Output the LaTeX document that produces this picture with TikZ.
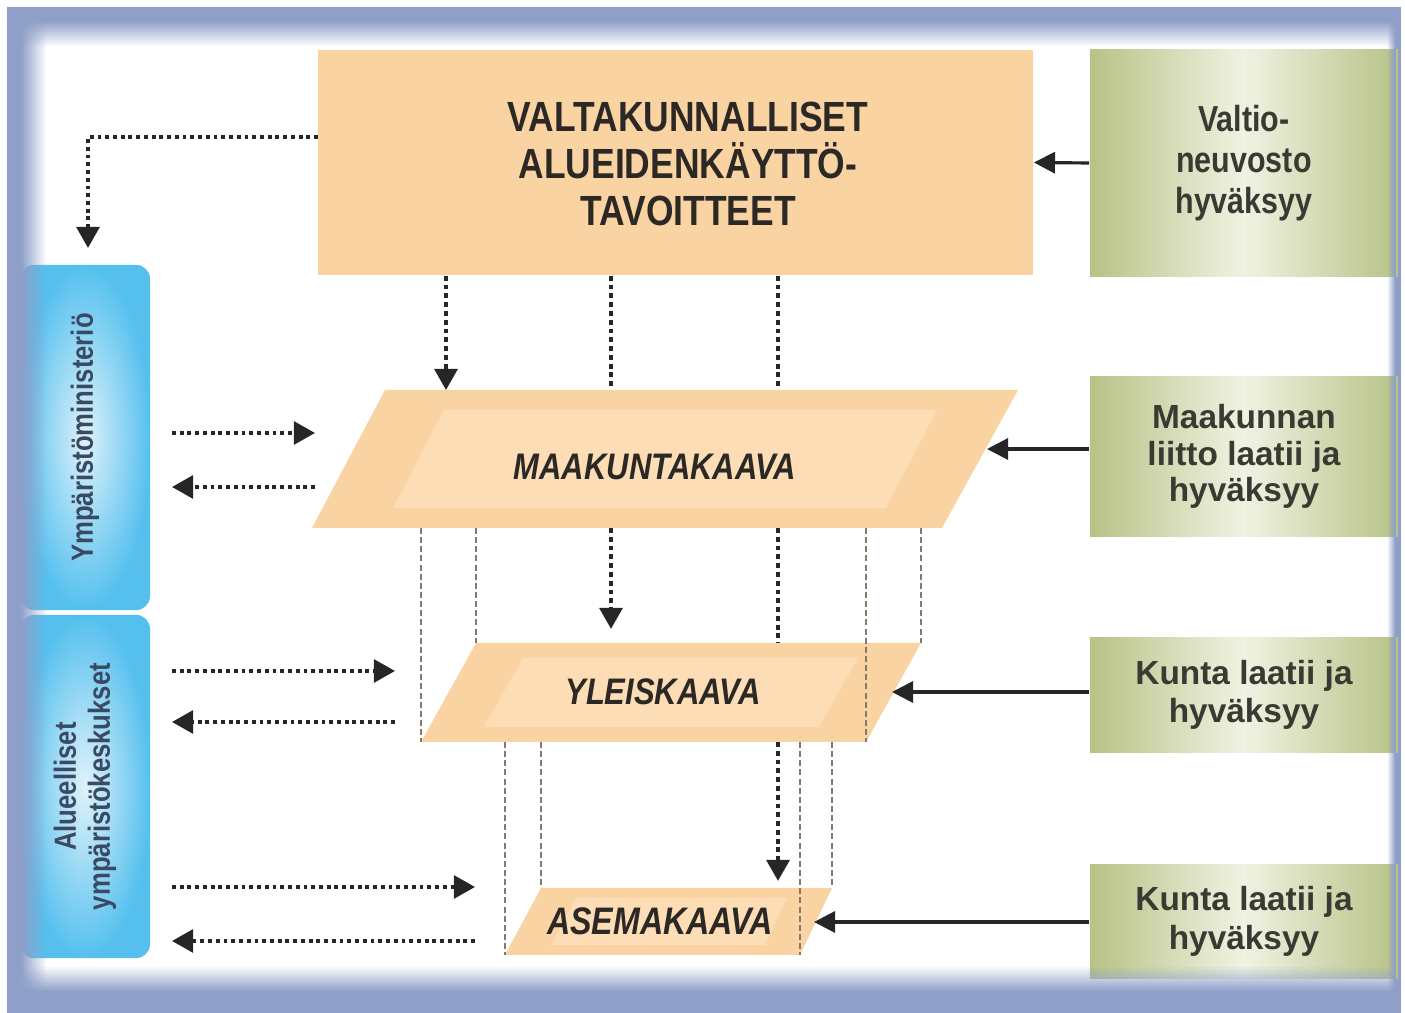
\documentclass[tikz,border=0pt]{standalone}
\usepackage{fontspec}
\setmainfont{Liberation Sans}
\newfontfamily\condfont{Liberation Sans}[FakeStretch=0.84]
\usepackage{xcolor}
\usepackage{tikz}
\usetikzlibrary{arrows.meta}
\definecolor{frame}{HTML}{8E9FC8}
\definecolor{peach}{HTML}{FAD3A2}
\definecolor{peachlight}{HTML}{FCDDB5}
\definecolor{olive}{HTML}{B7C286}
\definecolor{olivelight}{HTML}{F0F2E2}
\definecolor{cyanedge}{HTML}{55C0EE}
\definecolor{cyanlight}{HTML}{E0F2FA}
\definecolor{ink}{HTML}{2B2825}
\definecolor{inkgreen}{HTML}{3A3A33}
\definecolor{inkblue}{HTML}{3A4A64}
\definecolor{guide}{HTML}{857A6A}
\tikzset{
  topbox/.style={fill=peach, minimum width=7.15cm, minimum height=2.25cm, inner sep=0pt},
  toptext/.style={align=center, text=ink, font=\condfont\bfseries\fontsize{12}{13.4}\selectfont},
  greenbox/.style={left color=olive, right color=olive, middle color=olivelight,
    minimum width=3.08cm, inner sep=0pt, align=center, text=inkgreen,
    font=\bfseries\fontsize{9.5}{11}\selectfont},
  bluebox/.style={inner color=cyanlight, outer color=cyanedge, rounded corners=4pt, rotate=90,
    minimum height=1.3cm, inner sep=0pt, align=center, text=inkblue,
    font=\condfont\bfseries\fontsize{8.7}{9.7}\selectfont},
  plan/.style={fill=peach},
  planin/.style={fill=peachlight},
  plantext/.style={text=ink, font=\condfont\bfseries\itshape\fontsize{10.5}{12}\selectfont},
  flow/.style={draw=black!85, line width=1.1pt, dash pattern=on 1.4pt off 1.1pt},
  tip/.style={-{Triangle[length=6pt,width=6.5pt]}},
  link/.style={draw=black!85, line width=1pt, dash pattern=on 1.1pt off 1.1pt},
  guideline/.style={draw=guide, line width=0.7pt, dash pattern=on 1.7pt off 0.9pt},
  accept/.style={draw=black!85, line width=0.9pt, -{Triangle[length=6pt,width=6pt]}}
}
\begin{document}
\begin{tikzpicture}[x=0.01cm, y=-0.01cm]
  % frame
  \fill[white] (0,0) rectangle (1405,1013);
  \useasboundingbox (0,0) rectangle (1405,1013);
  \fill[frame] (7,7) rectangle (1401,1013);
  \fill[white] (20,20) rectangle (1396,993);

  % side boxes
  \node[bluebox, minimum width=3.45cm] (ym) at (85,437.5) {Ympäristöministeriö};
  \node[bluebox, minimum width=3.43cm] (ely) at (85,786.5) {Alueelliset\\ympäristökeskukset};
  \node[greenbox, minimum height=2.26cm, font=\condfont\bfseries\fontsize{10.3}{11.7}\selectfont]
    (vn) at (1244,163) {Valtio-\\neuvosto\\hyväksyy};
  \node[greenbox, minimum height=1.59cm, font=\bfseries\fontsize{9.5}{10.3}\selectfont]
    (liitto) at (1244,456.5) {Maakunnan\\liitto laatii ja\\hyväksyy};
  \node[greenbox, minimum height=1.14cm] (kunta1) at (1244,695) {Kunta laatii ja\\hyväksyy};
  \node[greenbox, minimum height=1.13cm] (kunta2) at (1244,921.5) {Kunta laatii ja\\hyväksyy};

  % soft edge of the frame
  \foreach \i [evaluate=\i as \op using 1-\i/13] in {0,...,12} {
    \fill[frame, opacity=\op] (20+2*\i,20) rectangle (22+2*\i,993);
    \fill[frame, opacity=\op] (20,20+2*\i) rectangle (1396,22+2*\i);
    \fill[frame, opacity=\op] (20,991-2*\i) rectangle (1396,993-2*\i);
  }
  \foreach \i [evaluate=\i as \op using 1-\i/8] in {0,...,7}
    \fill[frame, opacity=\op] (1395-\i,20) rectangle (1396-\i,993);

  % national goals
  \node[topbox] (vat) at (675.5,162.5) {};
  \node[toptext] (vat-t) at (688,164) {VALTAKUNNALLISET\\ALUEIDENKÄYTTÖ-\\TAVOITTEET};

  % plan levels
  \coordinate (mk-nw) at (385,390); \coordinate (mk-ne) at (1018,390);
  \coordinate (mk-se) at (942,528); \coordinate (mk-sw) at (312,528);
  \coordinate (yk-nw) at (476,643); \coordinate (yk-ne) at (921,643);
  \coordinate (yk-se) at (866,742); \coordinate (yk-sw) at (421,742);
  \coordinate (ak-nw) at (541,888); \coordinate (ak-ne) at (832,888);
  \coordinate (ak-se) at (800,955); \coordinate (ak-sw) at (505,955);

  \fill[plan] (mk-nw) -- (mk-ne) -- (mk-se) -- (mk-sw) -- cycle;
  \fill[planin] (444,410) -- (937,410) -- (886,508) -- (393,508) -- cycle;
  \fill[plan] (yk-nw) -- (yk-ne) -- (yk-se) -- (yk-sw) -- cycle;
  \fill[planin] (523,658) -- (858,658) -- (819,727) -- (484,727) -- cycle;
  \fill[plan] (ak-nw) -- (ak-ne) -- (ak-se) -- (ak-sw) -- cycle;
  \fill[planin] (576,898) -- (787,898) -- (765,945) -- (551,945) -- cycle;

  \node[plantext] (mk) at (655,467) {MAAKUNTAKAAVA};
  \node[plantext] (yk) at (663,692) {YLEISKAAVA};
  \node[plantext, font=\condfont\bfseries\itshape\fontsize{10.9}{12}\selectfont] (ak) at (660,921) {ASEMAKAAVA};

  % projection guides
  \foreach \c in {yk-sw, yk-nw, yk-se, yk-ne}
    \draw[guideline] (\c |- mk-sw) -- (\c);
  \foreach \c in {ak-sw, ak-nw, ak-se, ak-ne}
    \draw[guideline] (\c |- yk-sw) -- (\c);

  % steering from the national goals
  \coordinate (f1) at (446,0); \coordinate (f2) at (611,0); \coordinate (f3) at (778,0);
  \draw[flow, tip] (vat.south -| f1) -- (mk-nw -| f1);
  \draw[flow] (vat.south -| f2) -- (mk-nw -| f2);
  \draw[flow, tip, shorten >=4pt] (mk-sw -| f2) -- (yk-nw -| f2);
  \draw[flow] (vat.south -| f3) -- (mk-nw -| f3);
  \draw[flow] (mk-sw -| f3) -- (yk-nw -| f3);
  \draw[flow, tip, shorten >=2pt] (yk-sw -| f3) -- (ak-nw -| f3);

  % ministry links
  \coordinate (vat-w) at (318,137); \coordinate (ym-in) at (88,248);
  \draw[link, tip] (vat-w) -| (ym-in);
  \coordinate (lx) at (172,0);
  \foreach \n/\ya/\yb/\xe in {1/433/487/315, 2/671/722/395, 3/887/941/475} {
    \coordinate (in\n) at (\xe,\ya);
    \coordinate (out\n) at (\xe,\yb);
    \draw[link, tip] (lx |- in\n) -- (in\n);
    \draw[link, tip] (out\n) -- (lx |- out\n);
  }

  % approval
  \coordinate (mk-e) at (987,449);
  \coordinate (yk-e) at (892,692);
  \coordinate (ak-e) at (814,922);
  \draw[accept] (vn.west) -- (vat.east);
  \draw[accept] (liitto.west |- mk-e) -- (mk-e);
  \draw[accept] (kunta1.west |- yk-e) -- (yk-e);
  \draw[accept] (kunta2.west |- ak-e) -- (ak-e);
\end{tikzpicture}
\end{document}
